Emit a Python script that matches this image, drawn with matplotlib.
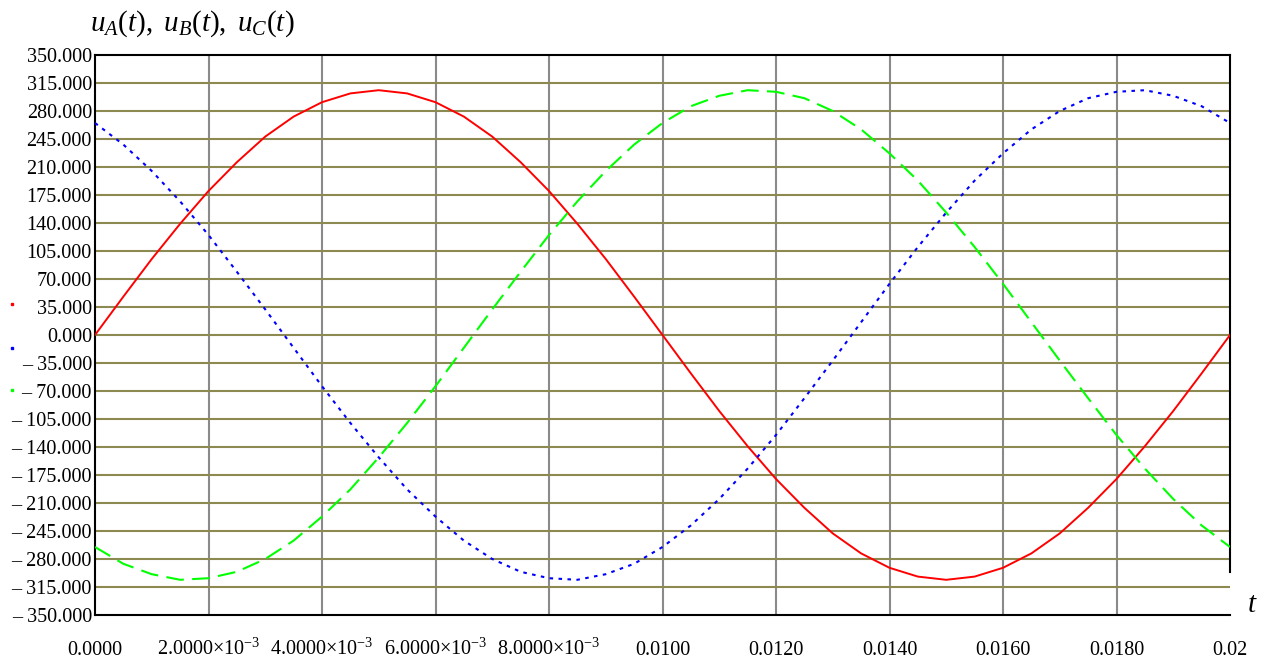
import matplotlib
matplotlib.use("Agg")
import matplotlib.pyplot as plt
from matplotlib.lines import Line2D

plt.rcParams['font.family'] = ['Liberation Serif', 'DejaVu Serif']
plt.rcParams['mathtext.fontset'] = 'custom'
plt.rcParams['mathtext.rm'] = 'Liberation Serif'
plt.rcParams['mathtext.it'] = 'Liberation Serif:italic'

# sample times, ms
t_ms = [0.0, 0.5, 1.0, 1.5, 2.0, 2.5, 3.0, 3.5, 4.0, 4.5,
        5.0, 5.5, 6.0, 6.5, 7.0, 7.5, 8.0, 8.5, 9.0, 9.5,
        10.0, 10.5, 11.0, 11.5, 12.0, 12.5, 13.0, 13.5, 14.0, 14.5,
        15.0, 15.5, 16.0, 16.5, 17.0, 17.5, 18.0, 18.5, 19.0, 19.5, 20.0]

u_a = [0, 48, 95, 139, 180, 216, 248, 273, 291, 302,
       306, 302, 291, 273, 248, 216, 180, 139, 95, 48,
       0, -48, -95, -139, -180, -216, -248, -273, -291, -302,
       -306, -302, -291, -273, -248, -216, -180, -139, -95, -48, 0]
u_b = [265, 238, 205, 167, 125, 79, 32, -16, -64, -110,
       -153, -193, -227, -257, -280, -296, -304, -306, -299, -286,
       -265, -238, -205, -167, -125, -79, -32, 16, 64, 110,
       153, 193, 227, 257, 280, 296, 304, 306, 299, 286, 265]
u_c = [-265, -286, -299, -306, -304, -296, -280, -257, -227, -193,
       -153, -110, -64, -16, 32, 79, 125, 167, 205, 238,
       265, 286, 299, 306, 304, 296, 280, 257, 227, 193,
       153, 110, 64, 16, -32, -79, -125, -167, -205, -238, -265]

x_ticks = [0.0, 0.002, 0.004, 0.006, 0.008, 0.010, 0.012, 0.014, 0.016, 0.018, 0.020]
x_labels = ['0.0000', r'2.0000×10$^{-3}$', r'4.0000×10$^{-3}$', r'6.0000×10$^{-3}$',
            r'8.0000×10$^{-3}$', '0.0100', '0.0120', '0.0140', '0.0160', '0.0180', '0.02']
y_ticks = list(range(-350, 351, 35))
y_labels = [('\u2013 %.3f' % -v) if v < 0 else '%.3f' % v for v in y_ticks]

t = [v / 1000 for v in t_ms]

fig = plt.figure(figsize=(12.72, 6.59), dpi=100)
ax = fig.add_axes([95 / 1272, 1 - 615 / 659, 1135 / 1272, 560 / 659])

# grid, skipping the frame edges
for v in x_ticks[1:-1]:
    ax.axvline(v, color='#8a8a8a', lw=1.5, zorder=1)
for v in y_ticks[1:-1]:
    ax.axhline(v, color='#8c8a50', lw=1.5, zorder=1)

ax.plot(t, u_a, color='#ff0000', lw=1.4, zorder=3)
ax.plot(t, u_b, color='#0000ff', lw=1.5, linestyle=(0, (1.7, 2.6)), zorder=3)
ax.plot(t, u_c, color='#00ff00', lw=1.5, linestyle=(0, (8.5, 4)), zorder=3)

ax.set_xlim(0, 0.02)
ax.set_ylim(-350, 350)
ax.set_xticks(x_ticks, x_labels, va='baseline')
ax.set_yticks(y_ticks, y_labels)
ax.tick_params(axis='x', length=0, pad=28.5, labelsize=14.5)
ax.tick_params(axis='y', length=0, pad=2.2, labelsize=14.5)

for s in ax.spines.values():
    s.set_linewidth(1.5)
    s.set_color('black')
ax.spines['right'].set_bounds(-296, 350)

fig.text(90 / 1272, 1 - 31 / 659, r'$u_A(t),\ u_B(t),\ u_C(t)$', fontsize=21,
         ha='left', va='baseline')
fig.text(1252 / 1272, 1 - 612 / 659, 't', fontsize=21, style='italic',
         ha='center', va='baseline')

# trace keys at the left edge
for yy, c in [(304, '#ff0000'), (348, '#0000ff'), (390, '#00ff00')]:
    fig.add_artist(Line2D([12 / 1272], [1 - yy / 659], marker='s', markersize=1.6,
                          color=c, linestyle='none', transform=fig.transFigure))

fig.savefig('out.png', dpi=100)
